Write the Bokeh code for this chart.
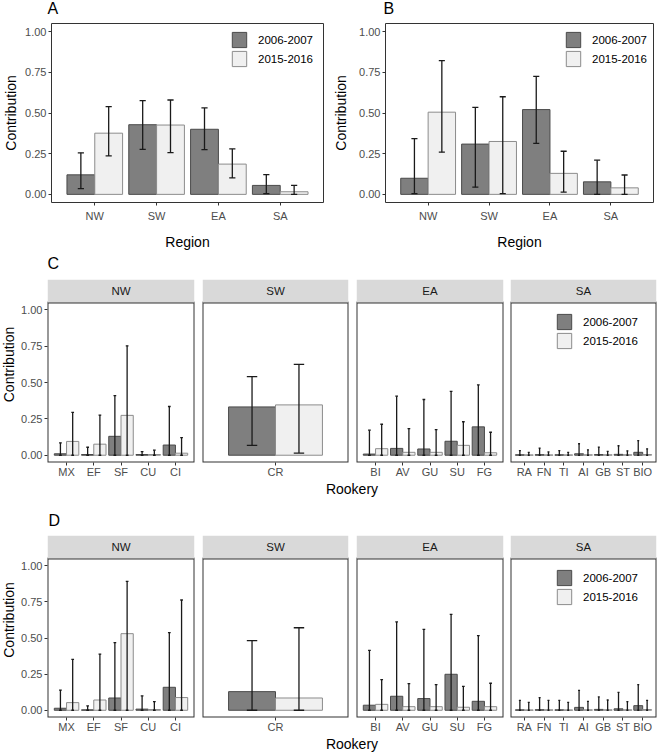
from math import pi
from bokeh.plotting import figure
from bokeh.models import (ColumnDataSource, FactorRange, Range1d, FixedTicker,
                          PrintfTickFormatter, Label, Legend, LegendItem, BoxAnnotation)
from bokeh.transform import dodge
from bokeh.layouts import column, row
from bokeh.embed import file_html
from bokeh.resources import INLINE

# ---------------- data ----------------
PERIODS = ["2006-2007", "2015-2016"]
REGIONS = ["NW", "SW", "EA", "SA"]
Y_TICKS = [0.0, 0.25, 0.5, 0.75, 1.0]

# Panel A (by region)
A_2006 = [0.120, 0.428, 0.400, 0.055]
A_2006_LO = [0.035, 0.276, 0.275, 0.005]
A_2006_HI = [0.255, 0.576, 0.531, 0.121]
A_2015 = [0.376, 0.426, 0.186, 0.016]
A_2015_LO = [0.236, 0.257, 0.101, 0.000]
A_2015_HI = [0.539, 0.580, 0.279, 0.055]

# Panel B (by region)
B_2006 = [0.099, 0.309, 0.521, 0.077]
B_2006_LO = [0.004, 0.044, 0.313, 0.000]
B_2006_HI = [0.343, 0.535, 0.725, 0.210]
B_2015 = [0.505, 0.325, 0.129, 0.040]
B_2015_LO = [0.259, 0.004, 0.014, 0.000]
B_2015_HI = [0.822, 0.600, 0.265, 0.119]

# Rookeries by region
NW_ROOKERIES = ["MX", "EF", "SF", "CU", "CI"]
SW_ROOKERIES = ["CR"]
EA_ROOKERIES = ["BI", "AV", "GU", "SU", "FG"]
SA_ROOKERIES = ["RA", "FN", "TI", "AI", "GB", "ST", "BIO"]

# Panel C (order: NW, SW, EA, SA rookeries)
C_2006 = [0.010, 0.005, 0.130, 0.005, 0.070, 0.332, 0.008, 0.047, 0.043, 0.096, 0.195,
          0.003, 0.004, 0.003, 0.010, 0.005, 0.006, 0.020]
C_2006_LO = [0, 0, 0, 0, 0, 0.068, 0, 0, 0, 0, 0, 0, 0, 0, 0, 0, 0, 0]
C_2006_HI = [0.085, 0.055, 0.410, 0.025, 0.335, 0.540, 0.172, 0.406, 0.383, 0.439, 0.483,
             0.032, 0.049, 0.032, 0.079, 0.056, 0.065, 0.100]
C_2015 = [0.095, 0.076, 0.274, 0.005, 0.014, 0.346, 0.045, 0.020, 0.020, 0.068, 0.017,
          0.002, 0.002, 0.002, 0.003, 0.003, 0.003, 0.005]
C_2015_LO = [0, 0, 0, 0, 0, 0.015, 0, 0, 0, 0, 0, 0, 0, 0, 0, 0, 0, 0]
C_2015_HI = [0.295, 0.276, 0.752, 0.035, 0.121, 0.624, 0.213, 0.183, 0.176, 0.230, 0.158,
             0.019, 0.023, 0.019, 0.037, 0.026, 0.030, 0.044]

# Panel D
D_2006 = [0.014, 0.003, 0.085, 0.008, 0.159, 0.129, 0.035, 0.097, 0.081, 0.249, 0.062,
          0.003, 0.004, 0.003, 0.020, 0.006, 0.010, 0.032]
D_2006_LO = [0] * 18
D_2006_HI = [0.140, 0.030, 0.468, 0.099, 0.537, 0.482, 0.415, 0.611, 0.560, 0.664, 0.516,
             0.069, 0.088, 0.069, 0.138, 0.092, 0.124, 0.177]
D_2015 = [0.053, 0.071, 0.530, 0.005, 0.088, 0.085, 0.041, 0.025, 0.025, 0.021, 0.025,
          0.002, 0.003, 0.002, 0.003, 0.003, 0.003, 0.005]
D_2015_LO = [0] * 18
D_2015_HI = [0.352, 0.389, 0.892, 0.060, 0.763, 0.571, 0.212, 0.184, 0.177, 0.166, 0.187,
             0.055, 0.069, 0.055, 0.062, 0.071, 0.060, 0.069]

# ---------------- style ----------------
FONT = "Liberation Sans"
DARK_FILL, DARK_LINE = "#7f7f7f", "#4a4a4a"
LIGHT_FILL, LIGHT_LINE = "#f0f0f0", "#8c8c8c"
ERR_COLOR = "#1a1a1a"
TICK_TXT = "#4d4d4d"
BORDER = "#333333"
STRIP_FILL = "#d9d9d9"

BAR_W = 0.45
OFF = 0.225
CAP = 0.05
PAGE_W = 658


def base_fig(width, height, xr, yr, bl, br, bt, bb, yaxis=True, xstandoff=0):
    p = figure(width=width, height=height, x_range=xr, y_range=yr, title=None,
               toolbar_location=None, output_backend="svg",
               y_axis_location="left" if yaxis else None,
               min_border_left=bl, min_border_right=br, min_border_top=bt, min_border_bottom=bb)
    p.xgrid.visible = False
    p.ygrid.visible = False
    p.background_fill_color = "white"
    p.border_fill_color = "white"
    xa = p.xaxis[0]
    xa.axis_line_color = None
    xa.major_tick_out = 3
    xa.major_tick_in = 0
    xa.major_tick_line_color = BORDER
    xa.major_label_text_font = FONT
    xa.major_label_text_font_size = "11px"
    xa.major_label_text_color = TICK_TXT
    xa.major_label_standoff = xstandoff
    if yaxis:
        ya = p.yaxis[0]
        ya.ticker = FixedTicker(ticks=Y_TICKS)
        ya.formatter = PrintfTickFormatter(format="%.2f")
        ya.axis_line_color = None
        ya.major_tick_out = 3
        ya.major_tick_in = 0
        ya.minor_tick_out = 0
        ya.minor_tick_in = 0
        ya.major_tick_line_color = BORDER
        ya.major_label_text_font = FONT
        ya.major_label_text_font_size = "11px"
        ya.major_label_text_color = TICK_TXT
        ya.major_label_standoff = 2
    return p


def draw_bars(p, xr, cats, m06, lo06, hi06, m15, lo15, hi15):
    src = ColumnDataSource(dict(cat=cats, m06=m06, lo06=lo06, hi06=hi06,
                                m15=m15, lo15=lo15, hi15=hi15))
    r1 = p.vbar(x=dodge("cat", -OFF, range=xr), top="m06", width=BAR_W, source=src,
                fill_color=DARK_FILL, line_color=DARK_LINE, line_width=1)
    r2 = p.vbar(x=dodge("cat", OFF, range=xr), top="m15", width=BAR_W, source=src,
                fill_color=LIGHT_FILL, line_color=LIGHT_LINE, line_width=1)
    for o, lo, hi in [(-OFF, "lo06", "hi06"), (OFF, "lo15", "hi15")]:
        kw = dict(source=src, line_color=ERR_COLOR, line_width=1.3)
        p.segment(x0=dodge("cat", o, range=xr), x1=dodge("cat", o, range=xr), y0=lo, y1=hi, **kw)
        p.segment(x0=dodge("cat", o - CAP, range=xr), x1=dodge("cat", o + CAP, range=xr),
                  y0=lo, y1=lo, **kw)
        p.segment(x0=dodge("cat", o - CAP, range=xr), x1=dodge("cat", o + CAP, range=xr),
                  y0=hi, y1=hi, **kw)
    return r1, r2


def add_legend(p, r1, r2, x, y):
    lg = Legend(items=[LegendItem(label=PERIODS[0], renderers=[r1]),
                       LegendItem(label=PERIODS[1], renderers=[r2])],
                location=(x, y), glyph_width=18, glyph_height=19, label_height=19,
                label_standoff=10, spacing=0, padding=0, margin=0,
                border_line_color=None, background_fill_alpha=0,
                label_text_font=FONT, label_text_font_size="11.5px", label_text_color="black")
    p.add_layout(lg)


def text_fig(width, height, labels, size="14px"):
    """labels: list of (x, y, text, angle, align) in screen px from bottom-left."""
    p = figure(width=width, height=height, x_range=Range1d(0, 1), y_range=Range1d(0, 1),
               title=None, toolbar_location=None, output_backend="svg",
               x_axis_location=None, y_axis_location=None, min_border=0)
    p.outline_line_color = None
    p.xgrid.visible = False
    p.ygrid.visible = False
    for x, y, text, angle, align in labels:
        p.add_layout(Label(x=x, y=y, x_units="screen", y_units="screen", text=text, angle=angle,
                           text_align=align, text_baseline="middle",
                           text_font=FONT, text_font_size=size, text_color="black"))
    return p


# ---------------- row 1: A and B ----------------
TAG1_H = 22
R1_TOP, R1_FRAME, R1_BOT = 1, 182, 47


def region_panel(width, bl, br, ystand, m06, lo06, hi06, m15, lo15, hi15):
    xr = FactorRange(factors=REGIONS, range_padding=0.2, range_padding_units="absolute")
    yr = Range1d(-0.05, 1.05)
    p = base_fig(width, R1_TOP + R1_FRAME + R1_BOT, xr, yr, bl, br, R1_TOP, R1_BOT, xstandoff=4)
    p.outline_line_color = BORDER
    p.outline_line_width = 1
    xa = p.xaxis[0]
    xa.axis_label = "Region"
    xa.axis_label_text_font = FONT
    xa.axis_label_text_font_size = "14px"
    xa.axis_label_text_font_style = "normal"
    xa.axis_label_text_color = "black"
    xa.axis_label_standoff = 9
    ya = p.yaxis[0]
    ya.axis_label = "Contribution"
    ya.axis_label_text_font = FONT
    ya.axis_label_text_font_size = "14px"
    ya.axis_label_text_font_style = "normal"
    ya.axis_label_text_color = "black"
    ya.axis_label_standoff = ystand
    r1, r2 = draw_bars(p, xr, REGIONS, m06, lo06, hi06, m15, lo15, hi15)
    add_legend(p, r1, r2, 179, R1_FRAME - 10 - 38)
    return p


tags1 = text_fig(PAGE_W, TAG1_H, [(47, TAG1_H - 7.5, "A", 0.0, "left"),
                                  (383, TAG1_H - 7.5, "B", 0.0, "left")], size="16px")
pA = region_panel(330, 47, 7, 3, A_2006, A_2006_LO, A_2006_HI, A_2015, A_2015_LO, A_2015_HI)
pB = region_panel(328, 52, 5, 7, B_2006, B_2006_LO, B_2006_HI, B_2015, B_2015_LO, B_2015_HI)

# ---------------- facet rows: C and D ----------------
STRIP_PX = 23
Y_PANEL_TOP = 1.05
FACETS = [("NW", NW_ROOKERIES, 180, 29, 4),
          ("SW", SW_ROOKERIES, 154, 4, 4),
          ("EA", EA_ROOKERIES, 155, 4, 4),
          ("SA", SA_ROOKERIES, 151, 3, 2)]
FACET_TOP = 1
FACET_BOT = 18
YLAB_W = 18


def facet_row(panel_px, m06, lo06, hi06, m15, lo15, hi15):
    frame_h = panel_px + STRIP_PX
    y_top = Y_PANEL_TOP + STRIP_PX * 1.1 / panel_px
    height = FACET_TOP + frame_h + FACET_BOT
    figs = [text_fig(YLAB_W, height, [(8, FACET_BOT + panel_px / 2, "Contribution", pi / 2, "center")])]
    start = 0
    for i, (reg, rooks, w, bl, br) in enumerate(FACETS):
        n = len(rooks)
        s = slice(start, start + n)
        start += n
        xr = FactorRange(factors=rooks, range_padding=0.2, range_padding_units="absolute")
        yr = Range1d(-0.05, y_top)
        p = base_fig(w, height, xr, yr, bl, br, FACET_TOP, FACET_BOT, yaxis=(i == 0))
        p.outline_line_color = None
        r1, r2 = draw_bars(p, xr, rooks, m06[s], lo06[s], hi06[s], m15[s], lo15[s], hi15[s])
        p.add_layout(BoxAnnotation(top=Y_PANEL_TOP, fill_color=None, fill_alpha=0,
                                   line_color=BORDER, line_alpha=1, line_width=2))
        p.add_layout(BoxAnnotation(bottom=Y_PANEL_TOP, fill_color=STRIP_FILL, fill_alpha=1,
                                   line_color=None))
        fw = w - bl - br
        p.add_layout(Label(x=fw / 2, y=(Y_PANEL_TOP + y_top) / 2, x_units="screen", y_units="data",
                           text=reg, text_align="center", text_baseline="middle",
                           text_font=FONT, text_font_size="11.5px", text_color="#1a1a1a"))
        if reg == "SA":
            add_legend(p, r1, r2, 45, frame_h - 33 - 38)
        figs.append(p)
    return row(*figs)


tagC = text_fig(PAGE_W, 26, [(47, 26 - 11, "C", 0.0, "left")], size="16px")
rowC = facet_row(160, C_2006, C_2006_LO, C_2006_HI, C_2015, C_2015_LO, C_2015_HI)
titleC = text_fig(PAGE_W, 18, [(351.5, 10, "Rookery", 0.0, "center")])
tagD = text_fig(PAGE_W, 36, [(48, 36 - 22, "D", 0.0, "left")], size="16px")
rowD = facet_row(159, D_2006, D_2006_LO, D_2006_HI, D_2015, D_2015_LO, D_2015_HI)
titleD = text_fig(PAGE_W, 18, [(351.5, 10, "Rookery", 0.0, "center")])

layout = column(tags1, row(pA, pB), tagC, rowC, titleC, tagD, rowD, titleD)

open("out.html", "w").write(file_html(layout, INLINE))
